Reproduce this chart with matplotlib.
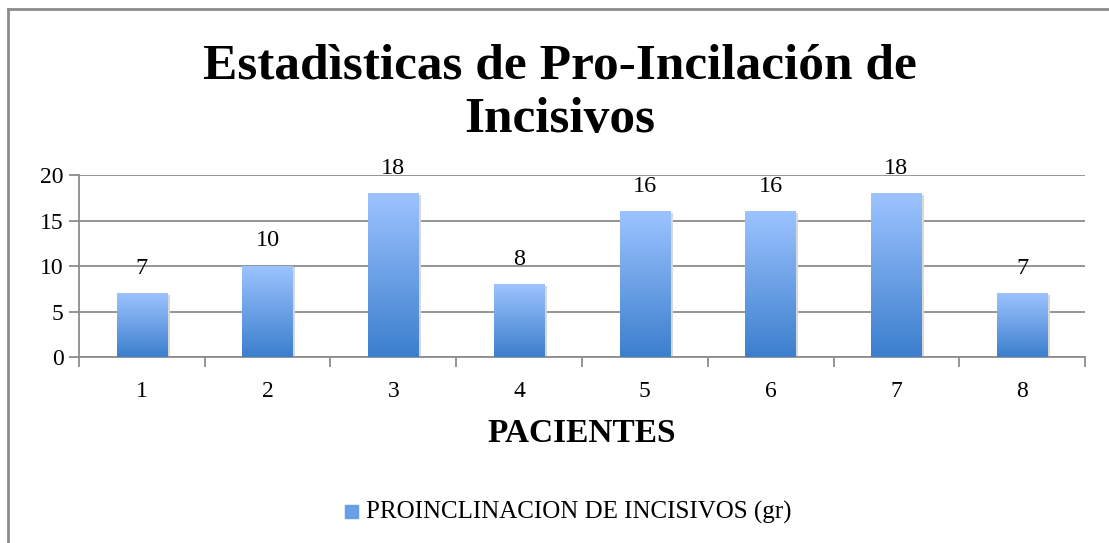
import numpy as np
import matplotlib.pyplot as plt
from matplotlib.lines import Line2D
from matplotlib.colors import LinearSegmentedColormap
from matplotlib.patches import Rectangle

pacientes = ['1', '2', '3', '4', '5', '6', '7', '8']
grados = [7, 10, 18, 8, 16, 16, 18, 7]
serie = 'PROINCLINACION DE INCISIVOS (gr)'

plt.rcParams['font.family'] = ['Liberation Serif', 'DejaVu Serif']

fig = plt.figure(figsize=(11.09, 5.43), dpi=100)
ax = fig.add_axes([0.0712, 0.3425, 0.9072, 0.3352])

grad = LinearSegmentedColormap.from_list('g', ['#3c7fcd', '#9cc3ff'])
x = np.arange(len(grados))
bars = ax.bar(x, grados, width=0.4, color='none', zorder=3)
for b in bars:
    x0, y0 = b.get_x(), b.get_y()
    w, h = b.get_width(), b.get_height()
    # leichter Schatten
    ax.add_patch(Rectangle((x0 + 0.02, y0), w, h - 0.15, color='#d8d8d8', zorder=2, lw=0))
    im = ax.imshow(np.linspace(0, 1, 100).reshape(-1, 1), cmap=grad, origin='lower',
                   extent=[x0, x0 + w, y0, y0 + h], aspect='auto', zorder=3)
    im.set_clip_path(b)
    ax.text(x0 + w / 2, h + 1.6, str(int(h)), ha='center', va='bottom', fontsize=17.5)

ax.set_xlim(-0.5, len(grados) - 0.5)
ax.set_ylim(0, 20)
ax.set_yticks([0, 5, 10, 15, 20])
ax.yaxis.grid(True, color='#8c8c8c', lw=1.3)
ax.set_axisbelow(True)
ax.set_xticks(x)
ax.set_xticklabels(pacientes)
ax.set_xticks(np.arange(-0.5, len(grados)), minor=True)
ax.tick_params(axis='x', which='major', length=0, pad=17, labelsize=17)
ax.tick_params(axis='x', which='minor', length=7, color='#8c8c8c', width=1.3)
ax.tick_params(axis='y', length=7, color='#8c8c8c', width=1.3, labelsize=17, pad=4)
for s in ['top', 'right']:
    ax.spines[s].set_visible(False)
for s in ['left', 'bottom']:
    ax.spines[s].set_color('#8c8c8c')
    ax.spines[s].set_linewidth(1.3)

ax.set_xlabel('PACIENTES', fontsize=24, fontweight='bold', labelpad=12)
fig.text(0.505, 0.828, 'Estadìsticas de Pro-Incilación de\nIncisivos', ha='center', va='center',
         fontsize=37, fontweight='bold', linespacing=1.22)

# Legende
fig.add_artist(Rectangle((0.311, 0.046), 0.0117, 0.024, transform=fig.transFigure, color='#6a9ee6'))
fig.text(0.330, 0.057, serie, ha='left', va='center', fontsize=18)

# Rahmen
fig.add_artist(Line2D([0.0068, 0.0068], [0.0, 0.984], transform=fig.transFigure, color='#8c8c8c', lw=2))
fig.add_artist(Line2D([0.0068, 1.0], [0.984, 0.984], transform=fig.transFigure, color='#8c8c8c', lw=2))

fig.savefig('out.png', dpi=100)
